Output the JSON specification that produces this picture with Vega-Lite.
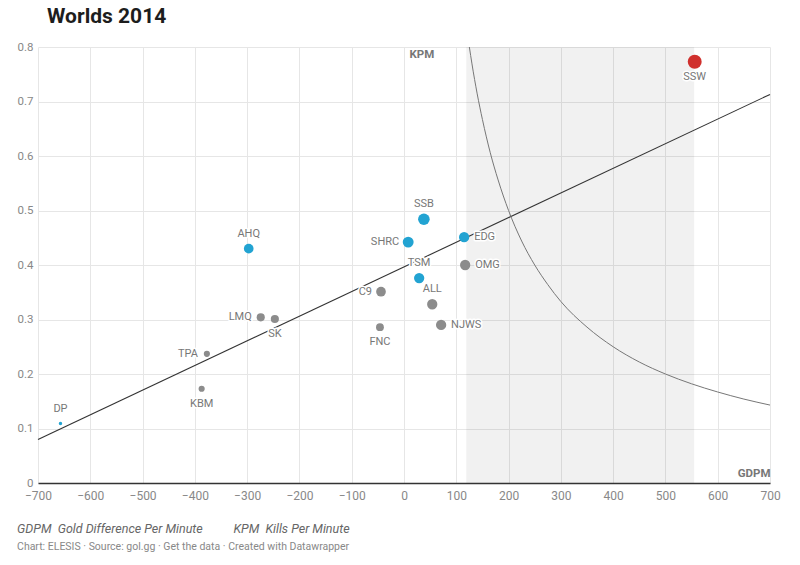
{
  "$schema": "https://vega.github.io/schema/vega-lite/v6.json",
  "padding": {"left": 17, "top": 6, "right": 30, "bottom": 5},
  "background": "white",
  "title": {
    "text": "Worlds 2014",
    "anchor": "start",
    "frame": "bounds",
    "font": "Roboto",
    "fontSize": 21,
    "fontWeight": "bold",
    "color": "#1d1d1d",
    "dx": 30,
    "offset": 14
  },
  "datasets": {
    "teams": [
      {"team": "SSW", "gdpm": 556, "kpm": 0.773, "status": "champion", "w": 0.97},
      {"team": "SSB", "gdpm": 38, "kpm": 0.484, "status": "highlight", "w": 0.67},
      {"team": "SHRC", "gdpm": 8, "kpm": 0.442, "status": "highlight", "w": 0.59},
      {"team": "EDG", "gdpm": 115, "kpm": 0.451, "status": "highlight", "w": 0.53},
      {"team": "TSM", "gdpm": 29, "kpm": 0.376, "status": "highlight", "w": 0.53},
      {"team": "OMG", "gdpm": 117, "kpm": 0.4, "status": "other", "w": 0.53},
      {"team": "ALL", "gdpm": 54, "kpm": 0.328, "status": "other", "w": 0.53},
      {"team": "NJWS", "gdpm": 71, "kpm": 0.29, "status": "other", "w": 0.53},
      {"team": "C9", "gdpm": -44, "kpm": 0.351, "status": "other", "w": 0.47},
      {"team": "FNC", "gdpm": -46, "kpm": 0.286, "status": "other", "w": 0.31},
      {"team": "AHQ", "gdpm": -297, "kpm": 0.43, "status": "highlight", "w": 0.47},
      {"team": "LMQ", "gdpm": -274, "kpm": 0.304, "status": "other", "w": 0.33},
      {"team": "SK", "gdpm": -247, "kpm": 0.301, "status": "other", "w": 0.33},
      {"team": "TPA", "gdpm": -377, "kpm": 0.237, "status": "other", "w": 0.19},
      {"team": "KBM", "gdpm": -387, "kpm": 0.173, "status": "other", "w": 0.19},
      {"team": "DP", "gdpm": -657, "kpm": 0.109, "status": "highlight", "w": 0.06}
    ],
    "trend": [
      {"gdpm": -700, "kpm": 0.08},
      {"gdpm": 700, "kpm": 0.713}
    ],
    "curve": [
      {"gdpm": 125, "kpm": 0.8},
      {"gdpm": 130, "kpm": 0.769},
      {"gdpm": 140, "kpm": 0.714},
      {"gdpm": 150, "kpm": 0.667},
      {"gdpm": 165, "kpm": 0.606},
      {"gdpm": 180, "kpm": 0.556},
      {"gdpm": 200, "kpm": 0.5},
      {"gdpm": 225, "kpm": 0.444},
      {"gdpm": 250, "kpm": 0.4},
      {"gdpm": 275, "kpm": 0.364},
      {"gdpm": 300, "kpm": 0.333},
      {"gdpm": 350, "kpm": 0.286},
      {"gdpm": 400, "kpm": 0.25},
      {"gdpm": 450, "kpm": 0.222},
      {"gdpm": 500, "kpm": 0.2},
      {"gdpm": 550, "kpm": 0.182},
      {"gdpm": 600, "kpm": 0.167},
      {"gdpm": 650, "kpm": 0.154},
      {"gdpm": 700, "kpm": 0.143}
    ],
    "band": [
      {"start": 119, "end": 555, "low": 0, "high": 0.8}
    ]
  },
  "vconcat": [
    {
      "width": 732,
      "height": 436,
      "title": {
        "text": "GDPM\u00a0\u00a0Gold Difference Per Minute\u00a0\u00a0\u00a0\u00a0\u00a0\u00a0\u00a0\u00a0\u00a0\u00a0KPM\u00a0\u00a0Kills Per Minute",
        "subtitle": "Chart: ELESIS · Source: gol.gg · Get the data · Created with Datawrapper",
        "orient": "bottom",
        "anchor": "start",
        "frame": "bounds",
        "font": "Roboto",
        "fontSize": 12.5,
        "fontStyle": "italic",
        "fontWeight": "normal",
        "color": "#666666",
        "subtitleFont": "Roboto",
        "subtitleFontSize": 10.5,
        "subtitleColor": "#888888",
        "subtitlePadding": 6,
        "offset": 22
      },
      "layer": [
        {
          "data": {"name": "band"},
          "mark": {"type": "rect", "fill": "#000000", "fillOpacity": 0.055},
          "encoding": {
            "x": {
              "field": "start",
              "type": "quantitative",
              "scale": {"domain": [-700, 700], "nice": false, "zero": false},
              "axis": {
                "values": [-700, -600, -500, -400, -300, -200, -100, 0, 100, 200, 300, 400, 500, 600, 700],
                "format": "d",
                "title": "GDPM",
                "titleX": 732,
                "titleY": -10,
                "titleAlign": "right",
                "titleBaseline": "middle",
                "titleAnchor": null,
                "titleFont": "Roboto",
                "titleFontSize": 11.5,
                "titleFontWeight": "bold",
                "titleColor": "#777777",
                "labelFont": "Roboto",
                "labelFontSize": 12,
                "labelColor": "#888888",
                "labelPadding": 7,
                "labelFlush": false,
                "labelOverlap": false,
                "ticks": false,
                "domain": true,
                "domainColor": "#333333",
                "domainWidth": 1.3,
                "grid": true,
                "gridColor": "#e6e6e6",
                "gridWidth": 1
              }
            },
            "x2": {"field": "end"},
            "y": {
              "field": "low",
              "type": "quantitative",
              "scale": {"domain": [0, 0.8], "nice": false},
              "axis": {
                "values": [0, 0.1, 0.2, 0.3, 0.4, 0.5, 0.6, 0.7, 0.8],
                "format": ".1~f",
                "title": "KPM",
                "titleX": 371,
                "titleY": 7,
                "titleAngle": 0,
                "titleAlign": "left",
                "titleBaseline": "middle",
                "titleAnchor": null,
                "titleFont": "Roboto",
                "titleFontSize": 11.5,
                "titleFontWeight": "bold",
                "titleColor": "#777777",
                "labelFont": "Roboto",
                "labelFontSize": 11.5,
                "labelColor": "#888888",
                "labelPadding": 5,
                "labelFlush": false,
                "ticks": false,
                "domain": false,
                "grid": true,
                "gridColor": "#e6e6e6",
                "gridWidth": 1
              }
            },
            "y2": {"field": "high"}
          }
        },
        {
          "mark": {"type": "rule", "color": "#444444", "strokeWidth": 1.2},
          "encoding": {"x": {"datum": 0, "type": "quantitative"}}
        },
        {
          "data": {"name": "trend"},
          "mark": {"type": "line", "color": "#333333", "strokeWidth": 1.1},
          "encoding": {
            "x": {"field": "gdpm", "type": "quantitative"},
            "y": {"field": "kpm", "type": "quantitative"}
          }
        },
        {
          "data": {"name": "curve"},
          "mark": {"type": "line", "color": "#777777", "strokeWidth": 1, "interpolate": "monotone"},
          "encoding": {
            "x": {"field": "gdpm", "type": "quantitative"},
            "y": {"field": "kpm", "type": "quantitative"}
          }
        },
        {
          "data": {"name": "teams"},
          "mark": {"type": "circle", "opacity": 1},
          "encoding": {
            "x": {"field": "gdpm", "type": "quantitative"},
            "y": {"field": "kpm", "type": "quantitative"},
            "size": {"field": "w", "type": "quantitative", "scale": {"domain": [0, 1], "range": [0, 200], "zero": true}, "legend": null},
            "color": {"field": "status", "type": "nominal", "scale": {"domain": ["champion", "highlight", "other"], "range": ["#d0302d", "#22a3d2", "#8c8c8c"]}, "legend": null}
          }
        },
        {
          "data": {"name": "teams"},
          "transform": [{"filter": {"field": "team", "oneOf": ["SSB", "TSM", "ALL", "AHQ", "DP"]}}],
          "encoding": {
            "x": {"field": "gdpm", "type": "quantitative"},
            "y": {"field": "kpm", "type": "quantitative"},
            "text": {"field": "team"}
          },
          "layer": [
            {"mark": {"type": "text", "dy": -15, "align": "center", "baseline": "middle", "font": "Roboto", "fontSize": 11, "fill": "white", "stroke": "white", "strokeWidth": 3, "strokeJoin": "round"}},
            {"mark": {"type": "text", "dy": -15, "align": "center", "baseline": "middle", "font": "Roboto", "fontSize": 11, "color": "#777777"}}
          ]
        },
        {
          "data": {"name": "teams"},
          "transform": [{"filter": {"field": "team", "oneOf": ["SSW", "FNC", "SK", "KBM"]}}],
          "encoding": {
            "x": {"field": "gdpm", "type": "quantitative"},
            "y": {"field": "kpm", "type": "quantitative"},
            "text": {"field": "team"}
          },
          "layer": [
            {"mark": {"type": "text", "dy": 15, "align": "center", "baseline": "middle", "font": "Roboto", "fontSize": 11, "fill": "white", "stroke": "white", "strokeWidth": 3, "strokeJoin": "round"}},
            {"mark": {"type": "text", "dy": 15, "align": "center", "baseline": "middle", "font": "Roboto", "fontSize": 11, "color": "#777777"}}
          ]
        },
        {
          "data": {"name": "teams"},
          "transform": [{"filter": {"field": "team", "oneOf": ["SHRC", "C9", "LMQ", "TPA"]}}],
          "encoding": {
            "x": {"field": "gdpm", "type": "quantitative"},
            "y": {"field": "kpm", "type": "quantitative"},
            "text": {"field": "team"}
          },
          "layer": [
            {"mark": {"type": "text", "dx": -9, "align": "right", "baseline": "middle", "font": "Roboto", "fontSize": 11, "fill": "white", "stroke": "white", "strokeWidth": 3, "strokeJoin": "round"}},
            {"mark": {"type": "text", "dx": -9, "align": "right", "baseline": "middle", "font": "Roboto", "fontSize": 11, "color": "#777777"}}
          ]
        },
        {
          "data": {"name": "teams"},
          "transform": [{"filter": {"field": "team", "oneOf": ["EDG", "OMG", "NJWS"]}}],
          "encoding": {
            "x": {"field": "gdpm", "type": "quantitative"},
            "y": {"field": "kpm", "type": "quantitative"},
            "text": {"field": "team"}
          },
          "layer": [
            {"mark": {"type": "text", "dx": 10, "align": "left", "baseline": "middle", "font": "Roboto", "fontSize": 11, "fill": "white", "stroke": "white", "strokeWidth": 3, "strokeJoin": "round"}},
            {"mark": {"type": "text", "dx": 10, "align": "left", "baseline": "middle", "font": "Roboto", "fontSize": 11, "color": "#777777"}}
          ]
        }
      ]
    }
  ],
  "config": {
    "font": "Roboto",
    "view": {"stroke": null},
    "concat": {"spacing": 0}
  }
}
